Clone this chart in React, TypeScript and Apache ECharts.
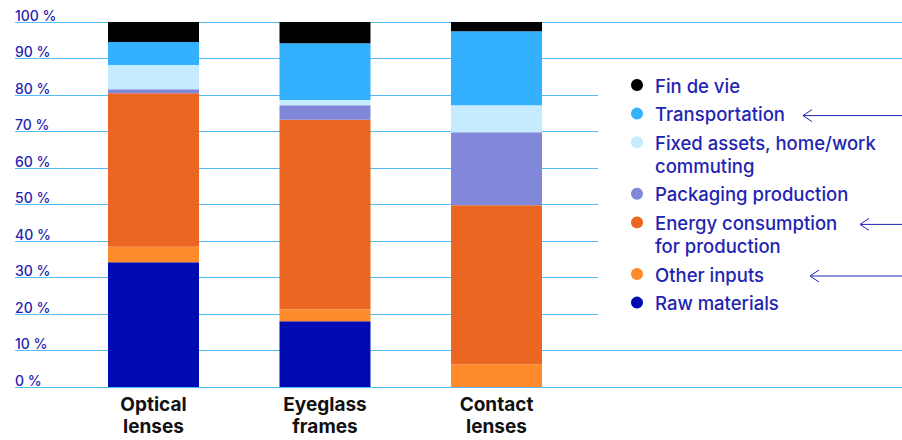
import React, { useEffect, useRef } from "react";
import * as echarts from "echarts";

// Product categories (x axis)
const categories = ["Optical\nlenses", "Eyeglass\nframes", "Contact\nlenses"];

// Share of each life-cycle stage, in %, per category (bottom to top of the stack)
const rawMaterials = [34.2, 18.0, 0];
const otherInputs = [4.2, 3.3, 6.2];
const energyConsumption = [42.1, 51.9, 43.6];
const packagingProduction = [1.1, 4.0, 20.0];
const fixedAssets = [6.6, 1.4, 7.4];
const transportation = [6.3, 15.6, 20.3];
const finDeVie = [5.5, 5.8, 2.5];

const stageNames = [
  "Raw materials",
  "Other inputs",
  "Energy consumption\nfor production",
  "Packaging production",
  "Fixed assets, home/work\ncommuting",
  "Transportation",
  "Fin de vie",
];
const stageValues = [
  rawMaterials,
  otherInputs,
  energyConsumption,
  packagingProduction,
  fixedAssets,
  transportation,
  finDeVie,
];
const stageColors = [
  "#000bb4",
  "#ff8b2b",
  "#ea6621",
  "#8187d9",
  "#c6eafe",
  "#33b1ff",
  "#000000",
];

// Stages pointed at by an arrow in the legend
const flaggedStages = ["Transportation", "Energy consumption\nfor production", "Other inputs"];

// Y axis ticks
const yMin = 0;
const yMax = 100;
const yStep = 10;

const FONT = "Inter, 'Liberation Sans', Arial, sans-serif";
const TEXT_BLUE = "#1f25b2";
const GRID_BLUE = "#55bbf4";

export default function App() {
  const ref = useRef<HTMLDivElement>(null);

  useEffect(() => {
    document.body.style.margin = "0";
    if (!ref.current) return;
    const chart = echarts.init(ref.current, undefined, { renderer: "svg" });

    const top = 22;
    const bottom = 53;

    // full-width rules only at 0, 10, 90 and 100 %
    const tickCount = Math.round((yMax - yMin) / yStep) + 1;
    const wideColors: string[] = [];
    for (let i = 0; i < tickCount; i++) {
      const v = yMin + i * yStep;
      wideColors.push(v <= 10 || v >= 90 ? GRID_BLUE : "rgba(0,0,0,0)");
    }

    const series: any[] = stageNames.map((name, i) => ({
      name,
      type: "bar",
      stack: "total",
      xAxisIndex: 2,
      yAxisIndex: 2,
      barWidth: 91,
      data: stageValues[i],
      itemStyle: { color: stageColors[i] },
    }));

    // Legend drawn top to bottom in reverse stack order
    const graphics: any[] = [];
    const legendX = 637;
    const textX = 655;
    const rowGap = 28.6;
    const lineStep = 23;
    let y = 85;
    for (let i = stageNames.length - 1; i >= 0; i--) {
      const name = stageNames[i];
      const lines = name.split("\n").length;
      graphics.push({
        type: "circle",
        shape: { cx: legendX, cy: y, r: 6 },
        style: { fill: stageColors[i] },
      });
      graphics.push({
        type: "text",
        x: textX,
        y: y - lineStep / 2 + 0.5,
        style: {
          text: name,
          fill: TEXT_BLUE,
          font: `500 18.5px ${FONT}`,
          lineHeight: lineStep,
          verticalAlign: "top",
          align: "left",
        },
      });
      if (flaggedStages.includes(name)) {
        const arrowStart: Record<string, number> = {
          Transportation: 803,
          "Energy consumption\nfor production": 860,
          "Other inputs": 810,
        };
        const ax = arrowStart[name];
        const ay = y + 2;
        graphics.push({
          type: "line",
          shape: { x1: ax, y1: ay, x2: 902, y2: ay },
          style: { stroke: TEXT_BLUE, lineWidth: 1 },
        });
        graphics.push({
          type: "polyline",
          shape: { points: [[ax + 9, ay - 6], [ax, ay], [ax + 9, ay + 6]] },
          style: { stroke: TEXT_BLUE, lineWidth: 1, fill: "none" },
        });
      }
      y += rowGap + (lines - 1) * lineStep;
    }

    const hiddenX = { type: "value", show: false, min: 0, max: 1 };
    const baseY = {
      type: "value",
      min: yMin,
      max: yMax,
      interval: yStep,
      axisLine: { show: false },
      axisTick: { show: false },
    };

    chart.setOption({
      animation: false,
      grid: [
        { left: 15, right: 0, top, bottom },
        { left: 15, right: 304, top, bottom },
        { left: 67.75, right: 319.75, top, bottom },
      ],
      xAxis: [
        { ...hiddenX, gridIndex: 0 },
        { ...hiddenX, gridIndex: 1 },
        {
          type: "category",
          gridIndex: 2,
          data: categories,
          axisLine: { show: false },
          axisTick: { show: false },
          axisLabel: {
            interval: 0,
            margin: 6,
            color: "#111111",
            fontFamily: FONT,
            fontSize: 19,
            fontWeight: "bold",
            lineHeight: 22,
          },
        },
      ],
      yAxis: [
        {
          ...baseY,
          gridIndex: 0,
          splitLine: { show: true, lineStyle: { color: wideColors, width: 1 } },
          axisLabel: {
            inside: true,
            margin: 0,
            align: "left",
            verticalAlign: "bottom",
            color: TEXT_BLUE,
            fontFamily: FONT,
            fontSize: 14,
            fontWeight: 500,
            lineHeight: 14,
            formatter: "{value} %",
          },
        },
        {
          ...baseY,
          gridIndex: 1,
          splitLine: { show: true, lineStyle: { color: GRID_BLUE, width: 1 } },
          axisLabel: { show: false },
        },
        {
          ...baseY,
          gridIndex: 2,
          splitLine: { show: false },
          axisLabel: { show: false },
        },
      ],
      series,
      graphic: graphics,
    });

    return () => chart.dispose();
  }, []);

  return (
    <div
      ref={ref}
      style={{ position: "absolute", left: 0, top: 0, width: 902, height: 440 }}
    />
  );
}
